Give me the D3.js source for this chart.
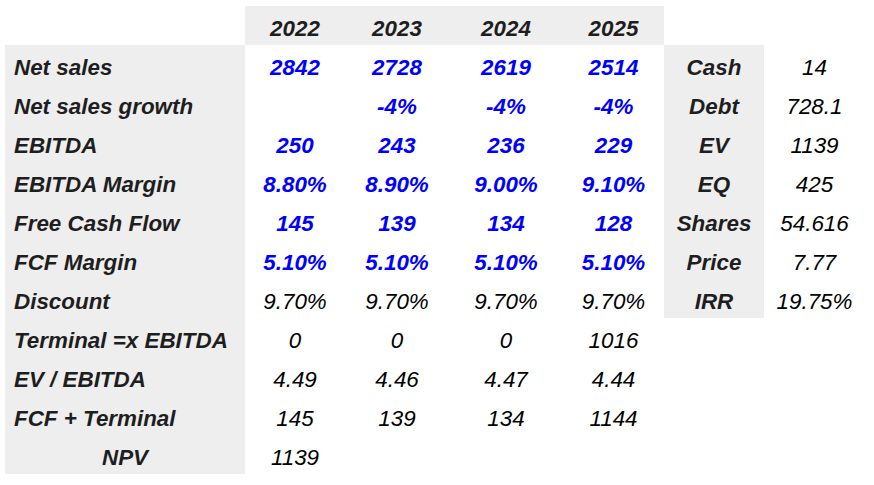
<!DOCTYPE html>
<html><head><meta charset="utf-8">
<script src="https://cdn.jsdelivr.net/npm/d3@7"></script>
<style>html,body{margin:0;padding:0;background:#fff;}</style>
</head><body>
<svg id="c" width="874" height="485"></svg>
<script>
// ---- data ----
const years = ["2022", "2023", "2024", "2025"];
const rowLabels = ["Net sales", "Net sales growth", "EBITDA", "EBITDA Margin", "Free Cash Flow",
  "FCF Margin", "Discount", "Terminal =x EBITDA", "EV / EBITDA", "FCF + Terminal", "NPV"];
const netSales = ["2842", "2728", "2619", "2514"];
const netSalesGrowth = ["", "-4%", "-4%", "-4%"];
const ebitda = ["250", "243", "236", "229"];
const ebitdaMargin = ["8.80%", "8.90%", "9.00%", "9.10%"];
const freeCashFlow = ["145", "139", "134", "128"];
const fcfMargin = ["5.10%", "5.10%", "5.10%", "5.10%"];
const discount = ["9.70%", "9.70%", "9.70%", "9.70%"];
const terminal = ["0", "0", "0", "1016"];
const evEbitda = ["4.49", "4.46", "4.47", "4.44"];
const fcfTerminal = ["145", "139", "134", "1144"];
const npv = ["1139"];
const sideLabels = ["Cash", "Debt", "EV", "EQ", "Shares", "Price", "IRR"];
const sideValues = ["14", "728.1", "1139", "425", "54.616", "7.77", "19.75%"];

const rowValues = [netSales, netSalesGrowth, ebitda, ebitdaMargin, freeCashFlow, fcfMargin,
  discount, terminal, evEbitda, fcfTerminal, npv];
const blueRows = 6; // first rows are inputs (blue)

// ---- layout ----
const colKeys = ["label", ...years, "sideLabel", "sideValue"];
const colWidths = [240, 100, 104, 114, 101, 100, 101];
const x0 = 5;
const colLeft = {}, colW = {};
let acc = x0;
colKeys.forEach((k, i) => { colLeft[k] = acc; colW[k] = colWidths[i]; acc += colWidths[i]; });
const xCenter = k => colLeft[k] + colW[k] / 2;

const rowKeys = ["header", ...rowLabels];
const y = d3.scaleBand().domain(rowKeys).range([6, 6 + 39 * rowKeys.length]).padding(0);
const base = k => y(k) + 30;

const svg = d3.select("#c");
const gray = "#eeeeee";
const dark = "#1e1e1e";
const blue = "#0000ff";
const font = "'Liberation Sans', Arial, sans-serif";

// backgrounds
svg.append("rect").attr("x", colLeft["2022"]).attr("y", y("header"))
  .attr("width", colLeft["sideLabel"] - colLeft["2022"]).attr("height", y.bandwidth()).attr("fill", gray);
svg.append("rect").attr("x", colLeft.label).attr("y", y(rowLabels[0]))
  .attr("width", colW.label).attr("height", y.bandwidth() * rowLabels.length).attr("fill", gray);
svg.append("rect").attr("x", colLeft.sideLabel).attr("y", y(rowLabels[0]))
  .attr("width", colW.sideLabel).attr("height", y.bandwidth() * sideLabels.length).attr("fill", gray);

const txt = (g) => g.attr("font-family", font).attr("font-size", 22.4).attr("font-style", "italic");

// header
svg.append("g").call(txt).selectAll("text").data(years).join("text")
  .attr("x", d => xCenter(d)).attr("y", base("header")).attr("text-anchor", "middle")
  .attr("font-weight", "bold").attr("fill", dark).text(d => d);

// row labels
svg.append("g").call(txt).selectAll("text").data(rowLabels).join("text")
  .attr("x", d => d === "NPV" ? xCenter("label") : colLeft.label + 9)
  .attr("text-anchor", d => d === "NPV" ? "middle" : "start")
  .attr("y", d => base(d)).attr("font-weight", "bold").attr("fill", dark).text(d => d);

// values
rowLabels.forEach((lab, ri) => {
  svg.append("g").call(txt).selectAll("text").data(rowValues[ri]).join("text")
    .attr("x", (d, i) => xCenter(years[i])).attr("y", base(lab)).attr("text-anchor", "middle")
    .attr("font-weight", ri < blueRows ? "bold" : "normal")
    .attr("fill", ri < blueRows ? blue : "#000").text(d => d);
});

// side block
svg.append("g").call(txt).selectAll("text").data(sideLabels).join("text")
  .attr("x", xCenter("sideLabel")).attr("y", (d, i) => base(rowLabels[i])).attr("text-anchor", "middle")
  .attr("font-weight", "bold").attr("fill", dark).text(d => d);
svg.append("g").call(txt).selectAll("text").data(sideValues).join("text")
  .attr("x", xCenter("sideValue")).attr("y", (d, i) => base(rowLabels[i])).attr("text-anchor", "middle")
  .attr("fill", "#000").text(d => d);
</script>
</body></html>
